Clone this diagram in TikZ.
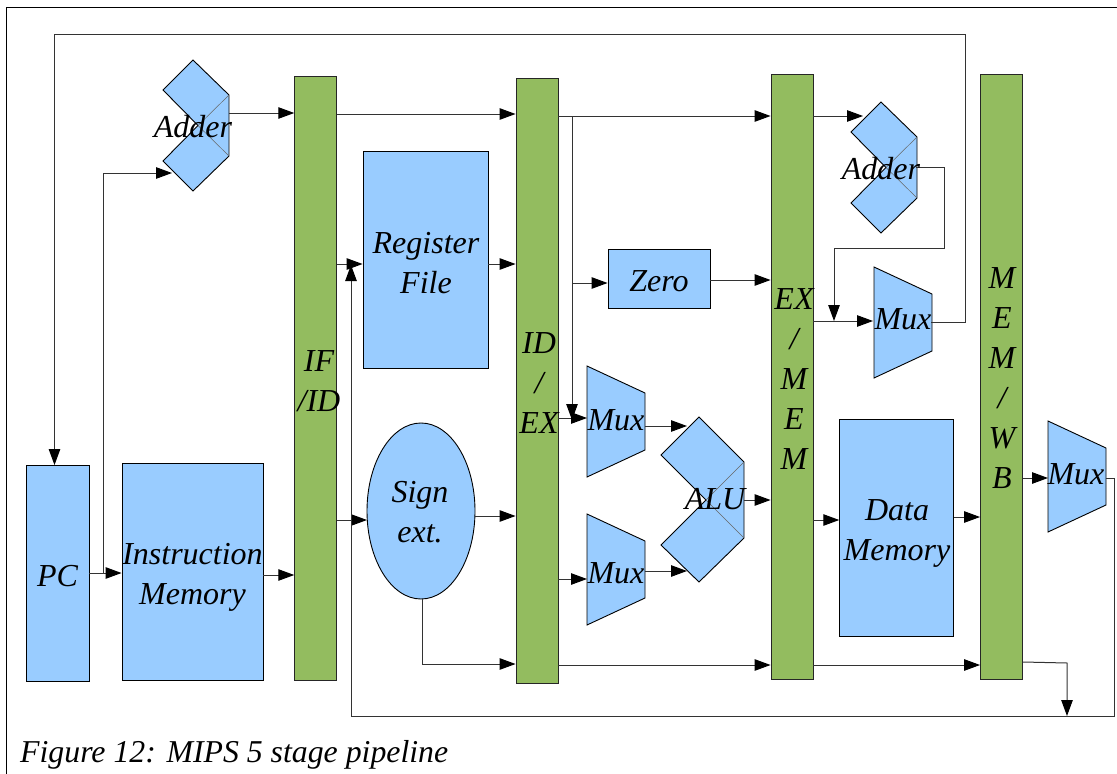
\documentclass[tikz,border=0pt]{standalone}
\usepackage{fontspec}
\setmainfont{Liberation Serif}
\usetikzlibrary{arrows.meta,positioning}
\definecolor{boxblue}{HTML}{99CCFF}
\definecolor{stagegreen}{HTML}{93BC5F}
\tikzset{
  x=1pt,y=-1pt,
  label font/.style={font=\itshape\fontsize{32}{40}\selectfont},
  bluebox/.style={draw=black,fill=boxblue,line width=0.9pt},
  stagebar/.style={draw=black!85,fill=stagegreen,line width=0.9pt},
  caption/.style={font=\itshape\fontsize{31.8}{36}\selectfont,anchor=base west,inner sep=0pt},
  wire/.style={draw=black!80,line width=1pt},
  flow/.style={wire,-{Triangle[length=16pt,width=11.5pt,black]}},
  txt/.style={label font,inner sep=0pt,align=center},
}
\newcommand{\adderfig}[2]{%
  \begin{scope}[shift={(#1,#2)}]
  \path[bluebox] (193,60)--(229,95)--(229,156)--(193,191)--(163,161)--(198,125.5)--(163,90)--cycle;
  \draw[black!60,line width=0.5pt] (229,95)--(198,125.5)--(229,156);
  \end{scope}}
\newcommand{\muxfig}[2]{%
  \path[bluebox] (#1,#2)--++(58,27)--++(0,57)--++(-58,27)--cycle;}
\begin{document}
\begin{tikzpicture}
\useasboundingbox (0,0) rectangle (1117,774);
\fill[white] (0,0) rectangle (1117,774);
\draw[black,line width=1pt] (1117,7.5)--(6.5,7.5)--(6.5,774);

% blocks
\node[bluebox,minimum width=63pt,minimum height=216pt,inner sep=0pt] (pc) at (57.5,573.5) {};
\node[bluebox,minimum width=141pt,minimum height=217pt,inner sep=0pt] (imem) at (192.5,571.5) {};
\node[stagebar,minimum width=42pt,minimum height=604pt,inner sep=0pt] (ifid) at (315.7,378.7) {};
\node[stagebar,minimum width=42pt,minimum height=605pt,inner sep=0pt] (idex) at (537,380.5) {};
\node[stagebar,minimum width=42pt,minimum height=605pt,inner sep=0pt] (exmem) at (792,376.5) {};
\node[stagebar,minimum width=42pt,minimum height=605pt,inner sep=0pt] (memwb) at (1001.5,376.5) {};
\node[bluebox,minimum width=125pt,minimum height=217pt,inner sep=0pt] (regfile) at (425.5,259.5) {};
\node[bluebox,minimum width=102pt,minimum height=59pt,inner sep=0pt] (zero) at (659,278.5) {};
\node[bluebox,minimum width=114pt,minimum height=217pt,inner sep=0pt] (dmem) at (896.7,528.3) {};
\path[bluebox] (421,511) ellipse [x radius=54,y radius=88];
\coordinate (signb) at (422,599);

% shapes
\adderfig{0}{0}
\adderfig{688}{42}
\path[bluebox] (699,417)--(744,462)--(744,538)--(699,582)--(661,545)--(706,500)--(661,455)--cycle;
\draw[black!60,line width=0.5pt] (744,462)--(706,500)--(744,538);
\muxfig{587}{366}
\muxfig{587}{514}
\muxfig{874}{267}
\muxfig{1048}{421}

% connector ports
\coordinate (addin) at (172,173);
\coordinate (addout) at (229,113);
\coordinate (add2in) at (863,116);
\coordinate (add2out) at (916,167);
\coordinate (m1out) at (645,426);
\coordinate (m2out) at (645,571);
\coordinate (aluin1) at (687,426);
\coordinate (aluin2) at (687,571);
\coordinate (aluout) at (744,500);
\coordinate (m1in) at (587,418);
\coordinate (m2in) at (587,579);
\coordinate (m3in) at (873,321);
\coordinate (m3out) at (931,322);
\coordinate (m4in) at (1048,478);
\coordinate (m4out) at (1106,478);

% connectors
\draw[flow] (pc.east |- 0,573) -- (imem.west |- 0,573);
\draw[flow] (103,573) |- (addin);
\draw[flow] (addout) -- (ifid.west |- addout);
\draw[flow] (imem.east |- 0,575) -- (ifid.west |- 0,575);
\draw[flow] (ifid.east |- 0,114) -- (idex.west |- 0,114);
\draw[flow] (ifid.east |- 0,264) -- (regfile.west |- 0,264);
\draw[flow] (ifid.east |- 0,520) -- (367,520);
\draw[flow] (regfile.east |- 0,264) -- (idex.west |- 0,264);
\draw[flow] (475,516) -- (idex.west |- 0,516);
\draw[flow] (signb) |- (idex.west |- 0,664);
\draw[flow] (idex.east |- 0,116) -- (exmem.west |- 0,116);
\draw[flow] (572,116) -- (572,420);
\draw[flow] (572,283) -- (zero.west |- 0,283);
\draw[flow] (zero.east |- 0,280) -- (exmem.west |- 0,280);
\draw[flow] (idex.east |- m1in) -- (m1in);
\draw[flow] (idex.east |- m2in) -- (m2in);
\draw[flow] (m1out) -- (aluin1);
\draw[flow] (m2out) -- (aluin2);
\draw[flow] (aluout) -- (exmem.west |- aluout);
\draw[flow] (idex.east |- 0,665) -- (exmem.west |- 0,665);
\draw[flow] (exmem.east |- add2in) -- (add2in);
\draw[flow] (add2out) -| (944,248) -| (834,321);
\draw[flow] (exmem.east |- m3in) -- (m3in);
\draw[flow] (m3out) -| (965,34) -| (pc.north -| 54.5,0);
\draw[flow] (exmem.east |- 0,520) -- (dmem.west |- 0,520);
\draw[flow] (dmem.east |- 0,517) -- (memwb.west |- 0,517);
\draw[flow] (exmem.east |- 0,665) -- (memwb.west |- 0,665);
\draw[flow] (memwb.east |- m4in) -- (m4in);
\draw[flow] (memwb.east |- 0,662) -- (1067,663) -- (1067,716);
\draw[flow] (m4out) -- (1114,478) -- (1114,716) -- (351,716) -- (351,265);

% labels over connectors
\node[txt] (pclbl) at (57.5,576) {PC};
\node[txt] (imlbl) at (192.5,577) {Instruction\\Memory};
\node[txt] (rflbl) at (426,263) {Register\\File};
\node[txt] (zlbl) at (659,281) {Zero};
\node[txt] (dmlbl) at (897,533) {Data\\Memory};
\node[txt] (sign) at (420,512) {Sign\\ext.};
\node[txt] (addlbl) at (193,127) {Adder};
\node[txt] (add2lbl) at (881,169) {Adder};
\node[txt] (alulbl) at (715,499) {ALU};
\node[txt] (m1lbl) at (616,420) {Mux};
\node[txt] (m2lbl) at (616,573) {Mux};
\node[txt] (m3lbl) at (903,319) {Mux};
\node[txt] (m4lbl) at (1076,474) {Mux};
\node[txt] (l1) at (319,381) {IF\\/ID};
\node[txt] (l2) at (539,383) {ID\\/\\EX};
\node[txt] (l3) at (794,379) {EX\\/\\M\\E\\M};
\node[txt] (l4) at (1002,378) {M\\E\\M\\/\\W\\B};
\node[caption] (cap) at (20,762) {Figure 12: MIPS 5 stage pipeline};
\end{tikzpicture}
\end{document}
